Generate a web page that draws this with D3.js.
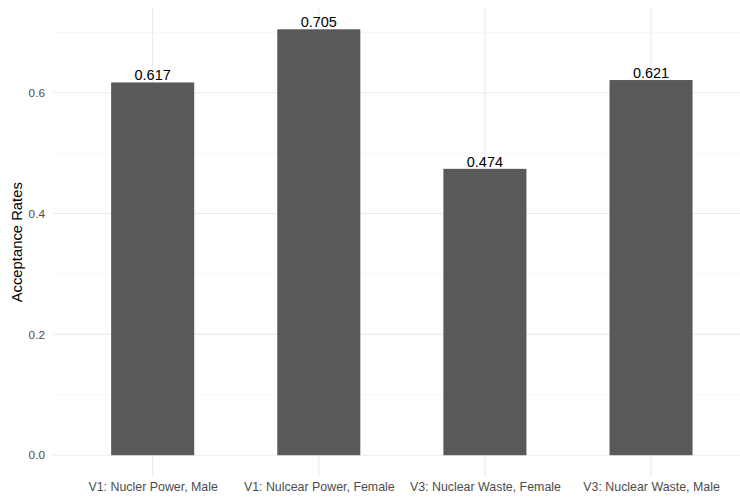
<!DOCTYPE html>
<html>
<head>
<meta charset="utf-8">
<script src="https://cdn.jsdelivr.net/npm/d3@7"></script>
<style>
  html, body { margin: 0; padding: 0; background: #fff; }
  svg { display: block; font-family: "Liberation Sans", Arial, sans-serif; }
</style>
</head>
<body>
<svg id="chart" width="740" height="497"></svg>
<script>
// Acceptance rates by vignette and respondent group
const categories = [
  "V1: Nucler Power, Male",
  "V1: Nulcear Power, Female",
  "V3: Nuclear Waste, Female",
  "V3: Nuclear Waste, Male"
];
const rates = [0.617, 0.705, 0.474, 0.621];
const rateLabels = ["0.617", "0.705", "0.474", "0.621"];
const majorTicks = [0, 0.2, 0.4, 0.6];
const minorTicks = [0.1, 0.3, 0.5, 0.7];

const svg = d3.select("#chart");
const panel = { left: 53, right: 750.7, top: 8, bottom: 476.5 };

// continuous y with 5% expansion around the data range
const yMax = d3.max(rates);
const pad = yMax * 0.05;
const y = d3.scaleLinear()
  .domain([-pad, yMax + pad])
  .range([panel.bottom, panel.top]);

// discrete x with 0.6 units of padding on each side
const n = categories.length;
const unit = (panel.right - panel.left) / (n - 1 + 1.2);
const x = d3.scalePoint()
  .domain(categories)
  .range([panel.left + 0.6 * unit, panel.right - 0.6 * unit]);
const barWidth = unit * 0.5;

const grid = svg.append("g");
grid.selectAll(".minor").data(minorTicks).join("line")
  .attr("x1", panel.left).attr("x2", panel.right)
  .attr("y1", d => y(d)).attr("y2", d => y(d))
  .attr("stroke", "#F2F2F2").attr("stroke-width", 0.6);
grid.selectAll(".major").data(majorTicks).join("line")
  .attr("x1", panel.left).attr("x2", panel.right)
  .attr("y1", d => y(d)).attr("y2", d => y(d))
  .attr("stroke", "#EBEBEB").attr("stroke-width", 1.1);
grid.selectAll(".vmajor").data(categories).join("line")
  .attr("x1", d => x(d)).attr("x2", d => x(d))
  .attr("y1", panel.top).attr("y2", panel.bottom)
  .attr("stroke", "#EBEBEB").attr("stroke-width", 1.1);

// bars
svg.append("g").selectAll("rect").data(categories).join("rect")
  .attr("x", d => x(d) - barWidth / 2)
  .attr("width", barWidth)
  .attr("y", (d, i) => y(rates[i]))
  .attr("height", (d, i) => y(0) - y(rates[i]))
  .attr("fill", "#595959");

// value labels above bars
svg.append("g").selectAll("text").data(categories).join("text")
  .attr("x", d => x(d))
  .attr("y", (d, i) => y(rates[i]) - 2)
  .attr("text-anchor", "middle")
  .attr("font-size", 14.5)
  .attr("fill", "#000")
  .text((d, i) => rateLabels[i]);

// y axis tick labels
const yAxis = d3.axisLeft(y).tickValues(majorTicks).tickSize(0).tickPadding(0)
  .tickFormat(d3.format(".1f"));
const gy = svg.append("g").attr("transform", `translate(${panel.left - 8},0)`).call(yAxis);
gy.select(".domain").remove();
gy.selectAll("text").attr("font-size", 11.8).attr("fill", "#4D4D4D")
  .attr("font-family", "Liberation Sans, Arial, sans-serif");

// x axis tick labels
const xAxis = d3.axisBottom(x).tickSize(0).tickPadding(0);
const gx = svg.append("g").attr("transform", `translate(0,${panel.bottom + 6})`).call(xAxis);
gx.select(".domain").remove();
gx.selectAll("text").attr("font-size", 12.4).attr("fill", "#4D4D4D")
  .attr("font-family", "Liberation Sans, Arial, sans-serif");

// y axis title
svg.append("text")
  .attr("transform", `translate(22,${(panel.top + panel.bottom) / 2}) rotate(-90)`)
  .attr("text-anchor", "middle")
  .attr("font-size", 14.8)
  .attr("fill", "#000")
  .text("Acceptance Rates");
</script>
</body>
</html>
